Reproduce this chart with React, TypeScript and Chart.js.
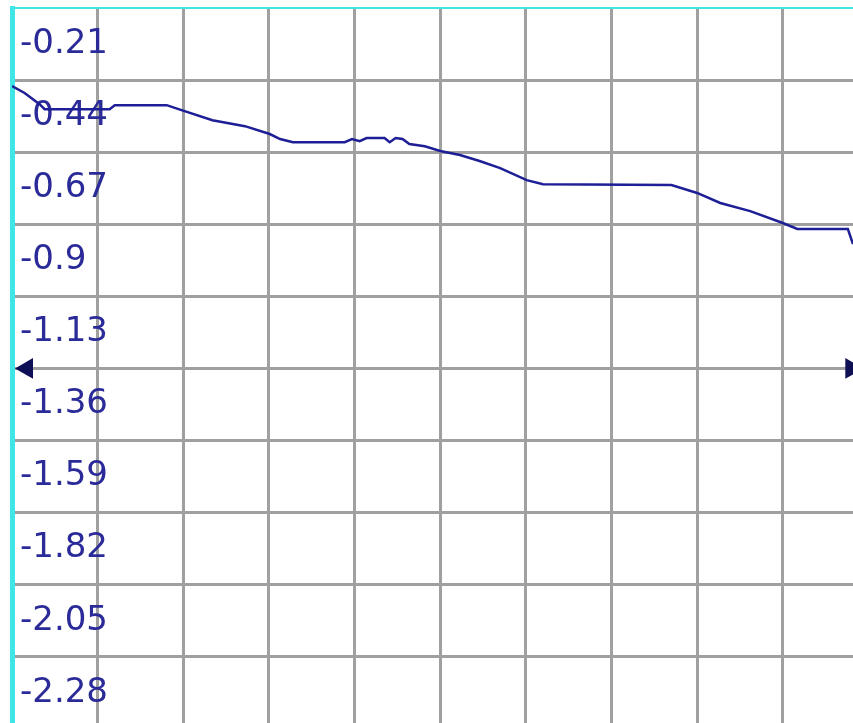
import { useEffect, useRef } from 'react';
import { Chart, registerables } from 'chart.js';

Chart.register(...registerables);

// curve samples (x in grid-cell units, y in axis units)
const xValues = [0, 0.147, 0.322, 0.381, 1.14, 1.2, 1.806, 1.98, 2.34, 2.72, 3.01, 3.13, 3.28, 3.885, 3.97, 4.06, 4.14, 4.35, 4.41, 4.48, 4.56, 4.64, 4.82, 5.0, 5.23, 5.46, 5.7, 6.01, 6.2, 7.7, 8.0, 8.27, 8.62, 9.0, 9.17, 9.76, 9.82];
const yValues = [-0.344, -0.366, -0.402, -0.418, -0.418, -0.405, -0.405, -0.421, -0.453, -0.472, -0.497, -0.513, -0.523, -0.523, -0.513, -0.52, -0.51, -0.51, -0.523, -0.51, -0.513, -0.529, -0.536, -0.551, -0.564, -0.583, -0.606, -0.644, -0.657, -0.66, -0.685, -0.717, -0.743, -0.781, -0.8, -0.8, -0.848];

// horizontal grid lines (ascending) and the labels drawn in the cell below each one
const yGridValues = [-2.165, -1.935, -1.705, -1.475, -1.245, -1.015, -0.785, -0.555, -0.325, -0.095];
const yTickLabels = ['-2.28', '-2.05', '-1.82', '-1.59', '-1.36', '-1.13', '-0.9', '-0.67', '-0.44', '-0.21'];
const xGridValues = [1, 2, 3, 4, 5, 6, 7, 8, 9];

const xMin = 0;
const xMax = 9.82;
const yMin = -2.376;
const yMax = -0.095;

// axis arrows on the horizontal axis line
const axisY = -1.245;
const arrowX = [0.175, 9.8];
const arrowRotation = [-90, 90];

export default function App() {
  const ref = useRef<HTMLCanvasElement | null>(null);
  useEffect(() => {
    if (!ref.current) return;
    const gray = '#a0a0a0';
    const cyan = '#40e6e6';
    const chart = new Chart(ref.current, {
      type: 'line',
      data: {
        datasets: [
          {
            data: xValues.map((x, i) => ({ x, y: yValues[i] })),
            borderColor: '#1e1e96',
            borderWidth: 2.5,
            pointRadius: 0,
            tension: 0,
            fill: false,
          },
          {
            data: arrowX.map((x) => ({ x, y: axisY })),
            showLine: false,
            pointStyle: 'triangle',
            pointRadius: 12,
            pointRotation: arrowRotation,
            pointBackgroundColor: '#0f0f55',
            pointBorderWidth: 0,
            borderWidth: 0,
          } as any,
        ],
      },
      options: {
        responsive: false,
        animation: false,
        layout: { autoPadding: false, padding: { left: 0, top: 8, right: 0, bottom: 0 } },
        plugins: { legend: { display: false }, tooltip: { enabled: false } },
        scales: {
          x: {
            type: 'linear',
            min: xMin,
            max: xMax,
            afterBuildTicks: (s: any) => {
              s.ticks = xGridValues.map((v) => ({ value: v }));
            },
            afterFit: (s: any) => {
              s.height = 0;
              s.paddingLeft = 0;
              s.paddingRight = 0;
            },
            ticks: { display: false },
            grid: { color: gray, lineWidth: 3, drawTicks: false },
            border: { display: false },
          },
          y: {
            type: 'linear',
            min: yMin,
            max: yMax,
            afterBuildTicks: (s: any) => {
              s.ticks = yGridValues.map((v) => ({ value: v }));
            },
            afterFit: (s: any) => {
              s.width = 12;
              s.paddingTop = 0;
              s.paddingBottom = 0;
            },
            ticks: {
              mirror: true,
              padding: 8,
              labelOffset: 36,
              autoSkip: false,
              color: '#2a2a98',
              font: { family: 'DejaVu Sans', size: 34 },
              callback: (_v: any, i: number) => yTickLabels[i],
            },
            grid: {
              drawTicks: false,
              color: (c: any) => (c.index === yGridValues.length - 1 ? cyan : gray),
              lineWidth: (c: any) => (c.index === yGridValues.length - 1 ? 2 : 3),
            },
            border: { display: true, color: cyan, width: 5 },
          },
        },
      },
    });
    return () => chart.destroy();
  }, []);
  return (
    <div style={{ position: 'absolute', left: 0, top: 0, width: 853, height: 723, background: '#fff' }}>
      <canvas ref={ref} width={853} height={723} />
    </div>
  );
}
